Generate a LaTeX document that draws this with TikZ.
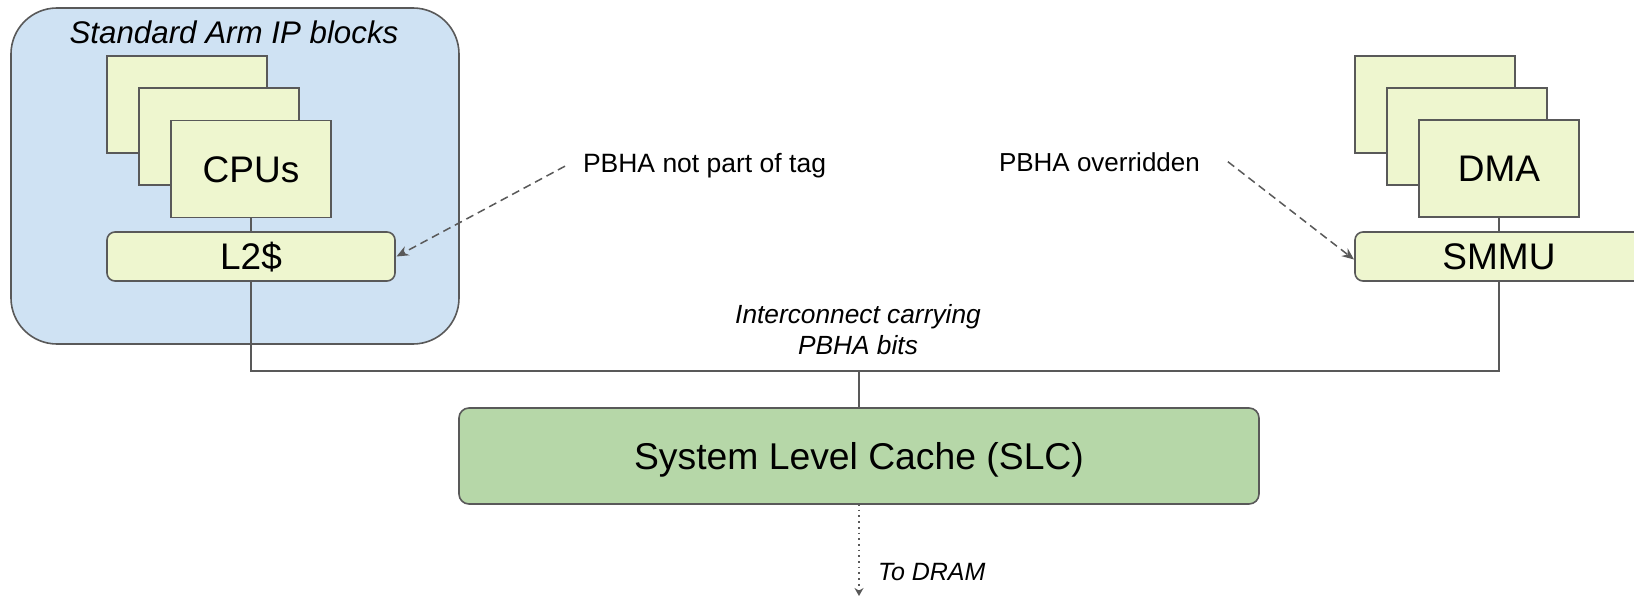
\documentclass[tikz,border=0pt]{standalone}
\usepackage{fontspec}
\setmainfont{Liberation Sans}
\usetikzlibrary{arrows.meta}
\definecolor{ipblue}{HTML}{CFE2F3}
\definecolor{cardfill}{HTML}{EEF6CF}
\definecolor{slcgreen}{HTML}{B6D7A8}
\definecolor{edge}{HTML}{595959}
\tikzset{
  ipbox/.style={draw=edge, line width=1.6pt, fill=ipblue, rounded corners=46pt},
  card/.style={draw=edge, line width=1.6pt, fill=cardfill, minimum width=160pt, minimum height=97pt, inner sep=0pt, outer sep=0pt, font=\fontsize{37}{41}\selectfont, text height=26.5pt, text depth=0pt},
  cachebox/.style={draw=edge, line width=1.6pt, fill=cardfill, rounded corners=8pt, minimum width=288pt, minimum height=49pt, inner sep=0pt, outer sep=0pt, font=\fontsize{37}{41}\selectfont, text height=26.5pt, text depth=0pt},
  slcbox/.style={draw=edge, line width=1.6pt, fill=slcgreen, rounded corners=10pt, minimum width=800pt, minimum height=96pt, inner sep=0pt, outer sep=0pt, font=\fontsize{37.3}{42}\selectfont, text height=26.8pt, text depth=0pt},
  wire/.style={draw=edge, line width=1.6pt},
  note/.style={inner sep=0pt, outer sep=0pt, font=\fontsize{26.5}{31}\selectfont},
  inote/.style={inner sep=0pt, outer sep=0pt, font=\fontsize{26.3}{31}\selectfont\itshape},
  dasharrow/.style={draw=edge, line width=1.5pt, dash pattern=on 8pt off 5pt, -{Stealth[length=12pt,width=10pt]}},
  dotarrow/.style={draw=edge, line width=1.7pt, dash pattern=on 1.7pt off 4pt, -{Stealth[length=8pt,width=9pt]}},
}
\begin{document}
\begin{tikzpicture}[x=1pt,y=-1pt]
\clip (0,0) rectangle (1634,597);
\fill[white] (0,0) rectangle (1634,597);

% left IP block
\draw[ipbox] (11,8) rectangle (459,344);
\node[inote, font=\fontsize{31.3}{35}\selectfont\itshape, anchor=base] (title) at (234,43) {Standard Arm IP blocks};

\node[card] (cpu1) at (187,104.5) {};
\node[card] (cpu2) at (219,136.5) {};
\node[card] (cpu3) at (251,169) {CPUs};
\node[cachebox] (l2) at (251,256.5) {L2\$};

% right DMA block
\node[card] (dma1) at (1435,104.5) {};
\node[card] (dma2) at (1467,136.5) {};
\node[card] (dma3) at (1499,168.5) {DMA};
\node[cachebox] (smmu) at (1499,256.5) {SMMU};

% SLC
\node[slcbox] (slc) at (859,456) {System Level Cache (SLC)};

% wires
\draw[wire] (cpu3.south) -- (l2.north);
\draw[wire] (dma3.south) -- (smmu.north);
\coordinate (bus) at (859,371);
\draw[wire] (l2.south) |- (bus) -| (smmu.south);
\draw[wire] (bus) -- (slc.north);

% labels
\node[inote, align=center, anchor=center] (ic) at (858,330) {Interconnect carrying\\PBHA bits};
\node[note, anchor=base west] (nottag) at (583,172) {PBHA not part of tag};
\node[note, font=\fontsize{26}{31}\selectfont, anchor=base west] (overr) at (999,171) {PBHA overridden};
\node[inote, font=\fontsize{25}{30}\selectfont\itshape, anchor=base west] (todram) at (878,580) {To DRAM};

% arrows
\coordinate (nts) at ([xshift=-18pt,yshift=-1pt]nottag.west);
\draw[dasharrow] (nts) -- ([xshift=1.5pt]l2.east);
\coordinate (ovs) at ([xshift=28pt]overr.west -| overr.east);
\draw[dasharrow] (ovs) -- ([xshift=-1pt,yshift=-3pt]smmu.west);
\coordinate (dram) at (859,596);
\draw[dotarrow] (slc.south) -- (dram);
\end{tikzpicture}
\end{document}
